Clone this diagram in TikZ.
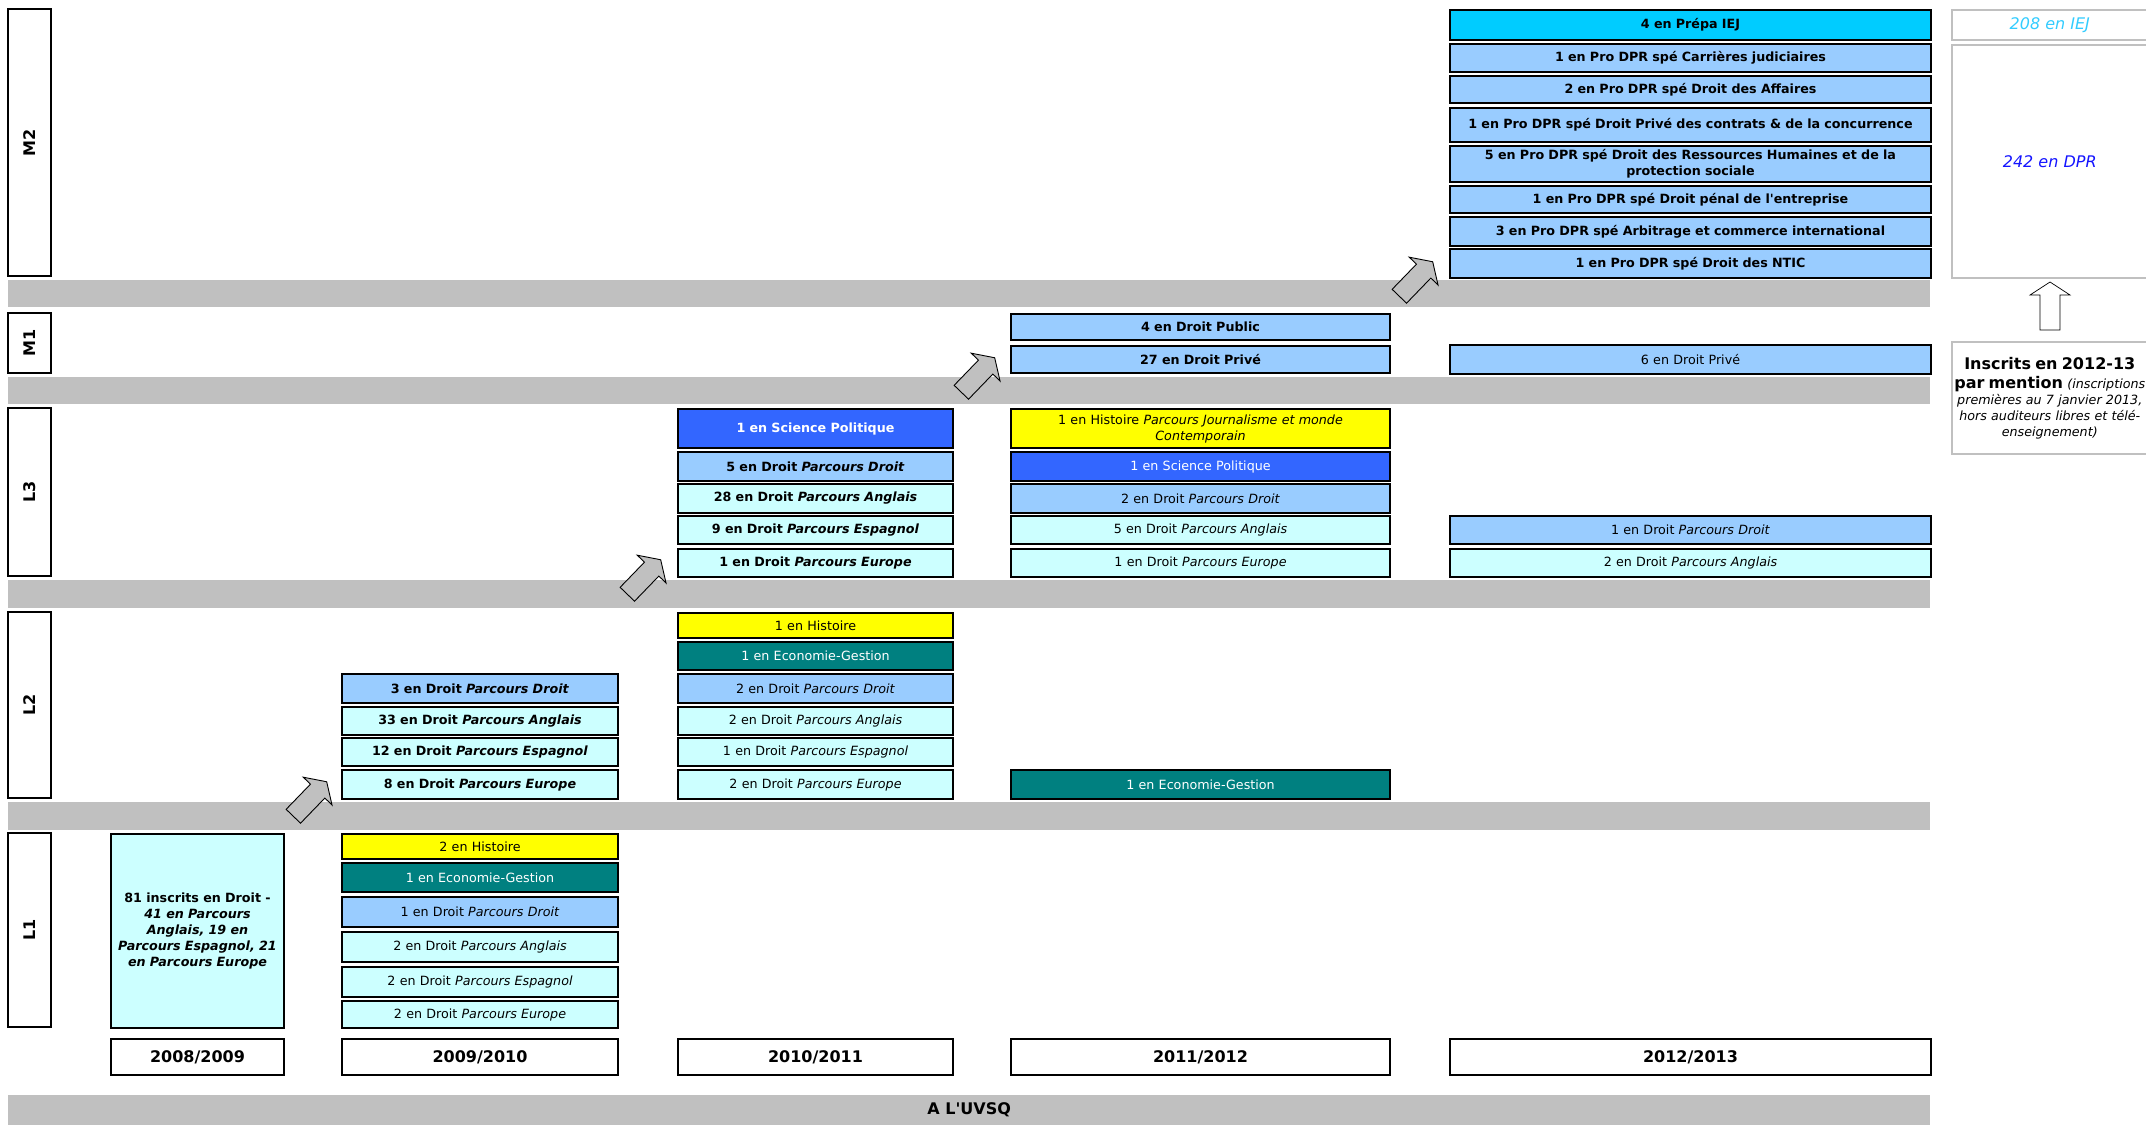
\documentclass[tikz,border=0pt]{standalone}
\usepackage{fontspec}
\newfontfamily\vfont{DejaVu Sans}
\usetikzlibrary{arrows.meta}

\definecolor{bleuclair}{HTML}{99CCFF}
\definecolor{cyanpale}{HTML}{CCFFFF}
\definecolor{bleuvif}{HTML}{3366FF}
\definecolor{ciel}{HTML}{00CCFF}
\definecolor{sarcelle}{HTML}{008080}
\definecolor{jaune}{HTML}{FFFF00}
\definecolor{gris}{HTML}{C0C0C0}
\definecolor{texteiej}{HTML}{33CCFF}
\definecolor{textedpr}{HTML}{1414FF}

\newcommand\petit{\vfont\fontsize{12.7}{16}\selectfont}
\newcommand\grand{\vfont\fontsize{16}{19}\selectfont}

\tikzset{
  montee/.pic={\draw[fleche] (-24,-10) -- (11,-10) -- (11,-20) -- (24,0) -- (11,20) -- (11,10) -- (-24,10) -- cycle;}
}

\begin{document}
\begin{tikzpicture}[x=1pt, y=-1pt,
  cell/.style={draw, line width=2pt, anchor=north west, inner sep=0pt, align=center, font=\petit},
  gras/.style={font=\petit\bfseries},
  ht/.style={minimum height=#1},
  lb/.style={cell, fill=bleuclair},
  pc/.style={cell, fill=cyanpale},
  sp/.style={cell, fill=bleuvif, text=white},
  eg/.style={cell, fill=sarcelle, text=white},
  hi/.style={cell, fill=jaune},
  iej/.style={cell, fill=ciel},
  yr/.style={cell, fill=white, font=\grand\bfseries},
  c08/.style={minimum width=173pt, text width=165pt},
  c09/.style={minimum width=276pt, text width=266pt},
  c10/.style={minimum width=275pt, text width=265pt},
  c11/.style={minimum width=379pt, text width=369pt},
  c12/.style={minimum width=481pt, text width=471pt},
  lvl/.style={draw, line width=2pt, fill=white, rotate=90, minimum height=43pt, inner sep=0pt, font=\grand\bfseries},
  band/.style={fill=gris, anchor=north west, inner sep=0pt, minimum width=1922pt, minimum height=30pt, font=\grand\bfseries},
  note/.style={draw=gris, line width=1.5pt, anchor=north west, minimum width=196pt, inner sep=0pt, align=center, font=\petit},
  fleche/.style={draw=black, fill=gris, line width=0.9pt, line join=miter}
]
\useasboundingbox (0,0) rectangle (2146,1125);

%% 회색 띠
\fill[gris] (8,280) rectangle (1930,307);
\fill[gris] (8,377) rectangle (1930,404);
\fill[gris] (8,580) rectangle (1930,608);
\fill[gris] (8,802) rectangle (1930,830);
\node[band] (uvsq) at (8,1095) {A L'UVSQ};

%% 단계
\node[lvl, minimum width=267pt] (m2) at (29.5,142.5) {M2};
\node[lvl, minimum width=60pt] (m1) at (29.5,343) {M1};
\node[lvl, minimum width=168pt] (l3) at (29.5,492) {L3};
\node[lvl, minimum width=186pt] (l2) at (29.5,705) {L2};
\node[lvl, minimum width=194pt] (l1) at (29.5,930) {L1};

%% M2
\node[iej, c12, gras, ht=30pt] (iej12) at (1449,9) {4 en Prépa IEJ};
\node[lb, c12, gras, ht=28pt] (carr) at (1449,43) {1 en Pro DPR spé Carrières judiciaires};
\node[lb, c12, gras, ht=27pt] (aff) at (1449,75) {2 en Pro DPR spé Droit des Affaires};
\node[lb, c12, gras, ht=34pt] (contr) at (1449,107) {1 en Pro DPR spé Droit Privé des contrats \& de la concurrence};
\node[lb, c12, gras, ht=36pt] (rh) at (1449,145) {5 en Pro DPR spé Droit des Ressources Humaines et de la\\protection sociale};
\node[lb, c12, gras, ht=27pt] (penal) at (1449,185) {1 en Pro DPR spé Droit pénal de l'entreprise};
\node[lb, c12, gras, ht=29pt] (arb) at (1449,216) {3 en Pro DPR spé Arbitrage et commerce international};
\node[lb, c12, gras, ht=29pt] (ntic) at (1449,248) {1 en Pro DPR spé Droit des NTIC};

%% M1
\node[lb, c11, gras, ht=26pt] (pub11) at (1010,313) {4 en Droit Public};
\node[lb, c11, gras, ht=27pt] (prive11) at (1010,345) {27 en Droit Privé};
\node[lb, c12, ht=29pt] (prive12) at (1449,344) {6 en Droit Privé};

%% L3
\node[sp, c10, gras, ht=39pt] (sp10) at (677,408) {1 en Science Politique};
\node[lb, c10, gras, ht=29pt] (dr3) at (677,451) {5 en Droit \textit{Parcours Droit}};
\node[pc, c10, gras, ht=29pt] (an3) at (677,483) {28 en Droit \textit{Parcours Anglais}};
\node[pc, c10, gras, ht=28pt] (es3) at (677,515) {9 en Droit \textit{Parcours Espagnol}};
\node[pc, c10, gras, ht=28pt] (eu3) at (677,548) {1 en Droit \textit{Parcours Europe}};

\node[hi, c11, ht=39pt] (hist11) at (1010,408) {1 en Histoire \textit{Parcours Journalisme et monde}\\\textit{Contemporain}};
\node[sp, c11, ht=29pt] (sp11) at (1010,451) {1 en Science Politique};
\node[lb, c11, ht=29pt] (dr11) at (1010,483) {2 en Droit \textit{Parcours Droit}};
\node[pc, c11, ht=28pt] (an11) at (1010,515) {5 en Droit \textit{Parcours Anglais}};
\node[pc, c11, ht=28pt] (eu11) at (1010,548) {1 en Droit \textit{Parcours Europe}};

\node[lb, c12, ht=28pt] (dr12) at (1449,515) {1 en Droit \textit{Parcours Droit}};
\node[pc, c12, ht=28pt] (an12) at (1449,548) {2 en Droit \textit{Parcours Anglais}};

%% L2
\node[lb, c09, gras, ht=29pt] (dr09) at (341,673) {3 en Droit \textit{Parcours Droit}};
\node[pc, c09, gras, ht=28pt] (an09) at (341,706) {33 en Droit \textit{Parcours Anglais}};
\node[pc, c09, gras, ht=28pt] (es09) at (341,737) {12 en Droit \textit{Parcours Espagnol}};
\node[pc, c09, gras, ht=29pt] (eu09) at (341,769) {8 en Droit \textit{Parcours Europe}};

\node[hi, c10, ht=25pt] (hist10) at (677,612) {1 en Histoire};
\node[eg, c10, ht=28pt] (eg10) at (677,641) {1 en Economie-Gestion};
\node[lb, c10, ht=29pt] (dr10) at (677,673) {2 en Droit \textit{Parcours Droit}};
\node[pc, c10, ht=28pt] (an10) at (677,706) {2 en Droit \textit{Parcours Anglais}};
\node[pc, c10, ht=28pt] (es10) at (677,737) {1 en Droit \textit{Parcours Espagnol}};
\node[pc, c10, ht=29pt] (eu10) at (677,769) {2 en Droit \textit{Parcours Europe}};

\node[eg, c11, ht=29pt] (eg11) at (1010,769) {1 en Economie-Gestion};

%% L1
\node[pc, c08, gras, ht=194pt] (dr08) at (110,833) {81 inscrits en Droit -\\\textit{41 en Parcours}\\\textit{Anglais, 19 en}\\\textit{Parcours Espagnol, 21}\\\textit{en Parcours Europe}};

\node[hi, c09, ht=25pt] (hist09) at (341,833) {2 en Histoire};
\node[eg, c09, ht=29pt] (eg09) at (341,862) {1 en Economie-Gestion};
\node[lb, c09, ht=30pt] (dr09b) at (341,896) {1 en Droit \textit{Parcours Droit}};
\node[pc, c09, ht=30pt] (an09b) at (341,931) {2 en Droit \textit{Parcours Anglais}};
\node[pc, c09, ht=30pt] (es09b) at (341,966) {2 en Droit \textit{Parcours Espagnol}};
\node[pc, c09, ht=27pt] (eu09b) at (341,1000) {2 en Droit \textit{Parcours Europe}};

%% 연도
\node[yr, c08, ht=36pt] (y08) at (110,1038) {2008/2009};
\node[yr, c09, ht=36pt] (y09) at (341,1038) {2009/2010};
\node[yr, c10, ht=36pt] (y10) at (677,1038) {2010/2011};
\node[yr, c11, ht=36pt] (y11) at (1010,1038) {2011/2012};
\node[yr, c12, ht=36pt] (y12) at (1449,1038) {2012/2013};

%% 오른쪽 칸
\node[note, ht=30pt, text=texteiej] (iej) at (1951,9) {\grand\itshape 208 en IEJ};
\node[note, ht=233pt, text=textedpr] (dpr) at (1951,44) {\grand\itshape 242 en DPR};
\pic[rotate=90, fleche/.append style={fill=white, line width=0.7pt}] (haut) at (2050,306) {montee}; % 위 화살표
\node[note, ht=112pt, text width=192pt] (insc) at (1951,341) {{\grand\bfseries Inscrits en 2012-13}\\[3pt]{\grand\bfseries par mention} \textit{(inscriptions}\\\textit{premières au 7 janvier 2013,}\\\textit{hors auditeurs libres et télé-}\\\textit{enseignement)}};

%% 화살표
\pic[rotate=46] (a1) at (310,799) {montee};
\pic[rotate=46] (a2) at (644,577) {montee};
\pic[rotate=46] (a3) at (978,375) {montee};
\pic[rotate=46] (a4) at (1416,279) {montee};
\end{tikzpicture}
\end{document}
